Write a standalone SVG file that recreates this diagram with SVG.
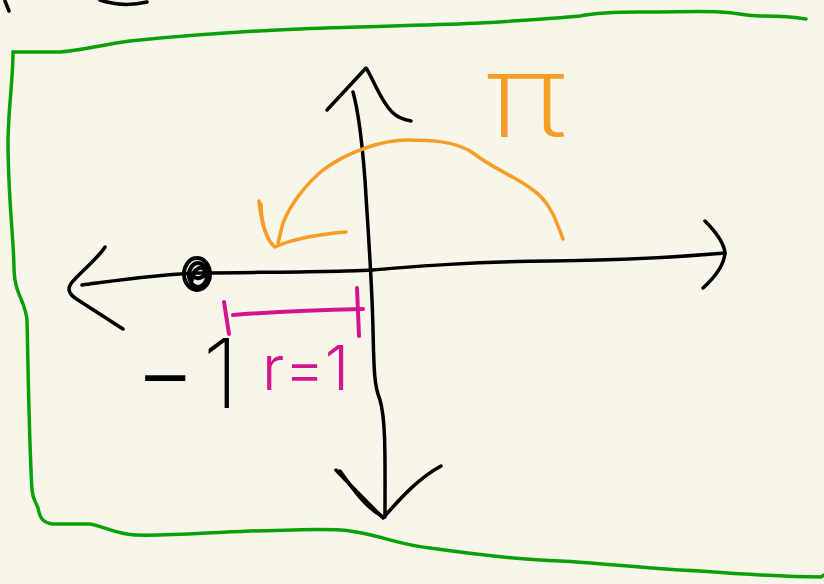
<svg xmlns="http://www.w3.org/2000/svg" width="824" height="584" viewBox="0 0 824 584">
<style>
.s{fill:none;stroke-linecap:round;stroke-linejoin:round}
.k{stroke:#000;stroke-width:3.5}
.g{stroke:#0aa00a;stroke-width:3.5}
.o{stroke:#f59d25;stroke-width:3.5}
.m{stroke:#d6138e;stroke-width:4}
.t{font-family:"Inter","Liberation Sans",sans-serif;font-weight:200}
</style>
<rect width="824" height="584" fill="#f8f6ea"/>
<g id="fragment" class="s k">
<path d="M5,1 L9,11"/>
<path d="M100,0 C115,5 130,6 147,2"/>
</g>
<g id="frame" class="s g">
<path d="M13,52 L60,52 C80,51 100,45 130,41 C180,36 250,31 300,29 C380,26 440,25 480,23 C530,20 560,18 580,16 C600,12 620,12 640,12 C680,12 700,11 720,12 C740,13 745,16 760,16 C780,16 795,17 806,19"/>
<path d="M13,52 C13,80 9,100 8,140 C8,200 14,240 14,270 C15,295 25,300 27,320 C28,360 29,440 32,490 C33,500 35,500 38,508 C40,520 45,523 52,524 L90,524 C100,525 115,534 135,535 C170,536 200,533 250,531 C300,530 330,528 350,531 C380,535 400,545 430,548 C480,555 520,560 560,561 C600,563 650,569 700,571 C740,574 780,577 821,577 L824,575"/>
</g>
<g id="axes" class="s k">
<path d="M82,285 C120,280 160,274 200,273 C280,272 340,272 372,270 C420,266 470,262 550,261 C620,260 680,257 725,253"/>
<path d="M705,221 C716,232 724,243 725,253 C724,266 714,278 703,288"/>
<path d="M105,247 C98,258 85,268 74,280 C66,288 68,294 78,300 L123,329"/>
<path d="M353,92 C358,110 362,140 365,180 C368,230 372,280 373,330 C374,370 374,385 380,400 C386,420 385,460 385,517"/>
<path d="M327,110 L366,68 C374,80 380,100 392,112 C398,118 405,120 411,121"/>
<path d="M336,470 C350,485 370,505 383,518 C395,505 415,480 441,466"/>
<path d="M340,471 C352,488 366,508 382,516"/>
</g>
<g id="point" class="s k" style="stroke-width:4">
<ellipse cx="197" cy="274" rx="13" ry="16"/>
<ellipse cx="198" cy="275" rx="9" ry="12"/>
<path d="M192,280 C192,268 204,264 205,272 C205,278 196,280 193,276"/>
</g>
<g id="arc" class="s o">
<path d="M563,239 C556,220 550,202 533,190 C515,176 495,170 473,153 C455,140 425,140 407,140 C385,140 350,150 323,170 C305,185 290,205 283,223 L278,243"/>
<path d="M259,201 C261,220 266,240 275,247 C290,240 310,235 346,232"/>
<path d="M261,204 C261,215 263,228 268,238"/>
</g>
<g id="pi">
<text class="t" x="0" y="0" font-size="116" fill="#f59d25" text-anchor="middle" transform="translate(526,137) scale(1.25,1)" style="font-weight:200">π</text>
</g>
<g id="radius" class="s m">
<path d="M224,302 L229,334"/>
<path d="M233,315 C270,312 310,310 363,309"/>
<path d="M357,288 L359,336"/>
</g>
<g id="r-label">
<text class="t" x="262" y="390" font-size="62" fill="#d6138e" style="font-weight:300">r=1</text>
</g>
<g id="minus-one">
<text class="t" x="134" y="408" font-size="96" fill="#000"><tspan font-size="140" dy="14">-</tspan><tspan dy="-14" dx="6">1</tspan></text>
</g>
</svg>
